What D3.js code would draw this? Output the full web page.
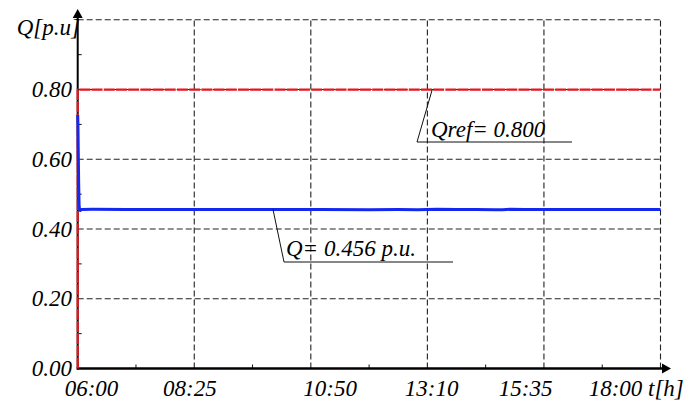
<!DOCTYPE html>
<html><head><meta charset="utf-8">
<script src="https://cdn.jsdelivr.net/npm/d3@7"></script>
<style>
html,body{margin:0;padding:0;background:#fff;}
text{font-family:"Liberation Serif",serif;font-style:italic;fill:#000;}
</style></head>
<body>
<svg id="c" width="692" height="407"></svg>
<script>
// ---- data ----
const xTickHours = [6, 8.4, 10.8, 13.2, 15.6, 18];
const xTickLabels = ["06:00", "08:25", "10:50", "13:10", "15:35", "18:00"];
const yTicks = [0, 0.2, 0.4, 0.6, 0.8, 1.0];
const yTickLabels = ["0.00", "0.20", "0.40", "0.60", "0.80", ""];
const qrefT = [6.0, 6.0, 18.0];
const qrefV = [0.0, 0.8, 0.8];
const qT = [6.000, 6.005, 6.012, 6.020, 6.028, 6.036, 6.050, 6.08, 6.3, 7.0, 8.0, 9.0, 10.0, 11.0, 12.0, 12.6, 13.0, 13.4, 13.8, 14.2, 14.6, 14.75, 14.9, 15.2, 15.6, 16.0, 17.0, 18.0];
const qV  = [0.727, 0.700, 0.620, 0.530, 0.470, 0.458, 0.453, 0.456, 0.4565, 0.456, 0.456, 0.456, 0.456, 0.456, 0.4555, 0.456, 0.4555, 0.457, 0.456, 0.456, 0.4555, 0.455, 0.4565, 0.456, 0.4558, 0.456, 0.456, 0.456];
const qrefLabel = "Qref= 0.800";
const qLabel = "Q= 0.456 p.u.";
const yAxisLabel = "Q[p.u]";
const xAxisLabel = "t[h]";

// ---- layout ----
const svg = d3.select("#c");
const x = d3.scaleLinear().domain([6, 18]).range([77.7, 660.5]);
const y = d3.scaleLinear().domain([0, 1]).range([368.5, 19.8]);
const FS = 23;

// grid
const grid = svg.append("g").attr("stroke", "#222").attr("stroke-width", 1.1)
  .attr("stroke-dasharray", "6,3").attr("fill", "none");
xTickHours.slice(1).forEach(h => {
  grid.append("line").attr("x1", x(h)).attr("x2", x(h)).attr("y1", y(0)).attr("y2", y(1));
});
yTicks.slice(1).forEach(v => {
  grid.append("line").attr("x1", x(6)).attr("x2", x(18)).attr("y1", y(v)).attr("y2", y(v));
});

// minor ticks
const minor = svg.append("g").attr("stroke", "#111").attr("stroke-width", 1);
for (let i = 0; i < xTickHours.length - 1; i++) {
  const m = (xTickHours[i] + xTickHours[i + 1]) / 2;
  minor.append("line").attr("x1", x(m)).attr("x2", x(m)).attr("y1", y(0)).attr("y2", y(0) - 4);
}
for (let i = 0; i < yTicks.length - 1; i++) {
  const m = (yTicks[i] + yTicks[i + 1]) / 2;
  minor.append("line").attr("x1", x(6)).attr("x2", x(6) + 4).attr("y1", y(m)).attr("y2", y(m));
}

// axes
svg.append("line").attr("x1", x(6)).attr("x2", x(6)).attr("y1", y(0) + 1).attr("y2", 16)
  .attr("stroke", "#000").attr("stroke-width", 2);
svg.append("path").attr("d", `M${x(6) - 5},${18} L${x(6)},${9} L${x(6) + 5},${18} Z`).attr("fill", "#000");
svg.append("line").attr("x1", x(6) - 1).attr("x2", 664).attr("y1", y(0)).attr("y2", y(0))
  .attr("stroke", "#000").attr("stroke-width", 2.5);
svg.append("path").attr("d", `M${662},${y(0) - 5} L${671},${y(0)} L${662},${y(0) + 5} Z`).attr("fill", "#000");

// series (on top of axes)
const line = d3.line().x(d => x(d[0])).y(d => y(d[1]));
svg.append("path").datum(qrefT.map((t, i) => [t, qrefV[i]]))
  .attr("d", line).attr("fill", "none").attr("stroke", "#e8141e")
  .attr("stroke-width", 2.2).attr("stroke-dasharray", "11,1.2");
svg.append("path").datum(qT.map((t, i) => [t, qV[i]]))
  .attr("d", line).attr("fill", "none").attr("stroke", "#1428f0")
  .attr("stroke-width", 3).attr("stroke-linejoin", "round");

// tick labels
const xDx = [13.8, -4.3, 19.3, 4.2, -18.3, -45];
xTickHours.forEach((h, i) => {
  svg.append("text").attr("x", x(h) + xDx[i]).attr("y", 396).attr("text-anchor", "middle")
    .attr("font-size", FS).text(xTickLabels[i]);
});
yTicks.forEach((v, i) => {
  if (!yTickLabels[i]) return;
  svg.append("text").attr("x", 72).attr("y", y(v) + 7.5).attr("text-anchor", "end")
    .attr("font-size", FS).text(yTickLabels[i]);
});
svg.append("text").attr("x", 648).attr("y", 396).attr("font-size", FS).text(xAxisLabel);
svg.append("text").attr("x", 80).attr("y", 35).attr("text-anchor", "end").attr("font-size", FS).text(yAxisLabel);

// annotations
const ann = svg.append("g").attr("stroke", "#111").attr("stroke-width", 1).attr("fill", "none");
const aRefX = x(13.3), aRefY = y(0.8);
ann.append("path").attr("d", `M${aRefX},${aRefY} L${417},${142} L${572},${142}`);
svg.append("text").attr("x", 431).attr("y", 137).attr("font-size", FS).text(qrefLabel);
const aQy = y(0.456);
ann.append("path").attr("d", `M${273},${aQy} L${284},${262} L${453},${262}`);
svg.append("text").attr("x", 286).attr("y", 256).attr("font-size", FS).text(qLabel);
</script>
</body></html>
